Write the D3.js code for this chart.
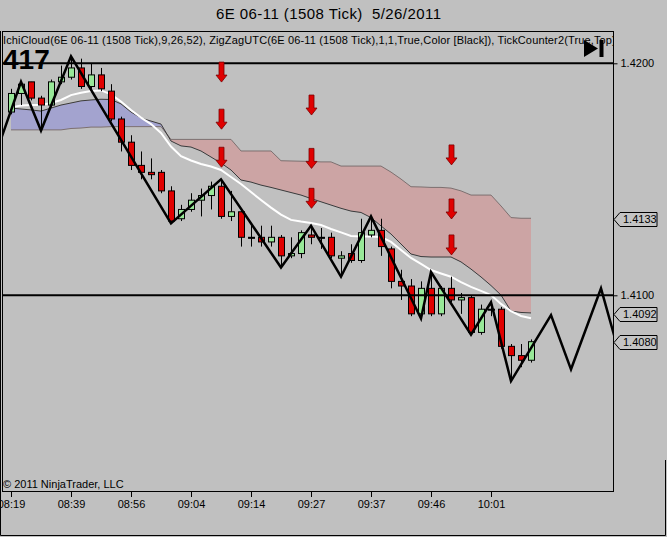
<!DOCTYPE html>
<html lang="en">
<head>
<meta charset="UTF-8">
<title>6E 06-11 (1508 Tick) 5/26/2011</title>
<script src="https://d3js.org/d3.v7.min.js"></script>
<style>
  body { margin: 0; background: #c0c0c0; }
  svg { display: block; font-family: "Liberation Sans", Arial, sans-serif; }
</style>
</head>
<body>
<script>
// candles, one per 1508-tick bar (index 0 = 08:19)
const opens = [1.4179,1.4187,1.4192,1.4185,1.4182,1.4192,1.4194,1.4198,1.4190,1.4195,
               1.4188,1.4176,1.4166,1.4156,1.4153,1.4153,1.4145,1.4133,1.4137,1.4141,
               1.4143,1.4147,1.4134,1.4136,1.4125,1.4125,1.4123,1.4125,1.4117,1.4118,
               1.4126,1.4125,1.4125,1.4116,1.4118,1.4115,1.4126,1.4128,1.4120,1.4106,
               1.4104,1.4092,1.4103,1.4092,1.4103,1.4098,1.4099,1.4084,1.4094,1.4094,
               1.4078,1.4074,1.4072];
const highs = [1.4189,1.4192,1.4192,1.4186,1.4193,1.4199,1.4203,1.4202,1.4200,1.4198,
               1.4191,1.4177,1.4169,1.4162,1.4159,1.4154,1.4147,1.4139,1.4144,1.4146,
               1.4149,1.4150,1.4145,1.4137,1.4130,1.4130,1.4130,1.4126,1.4125,1.4128,
               1.4130,1.4129,1.4127,1.4119,1.4122,1.4133,1.4134,1.4133,1.4121,1.4111,
               1.4107,1.4106,1.4110,1.4104,1.4108,1.4101,1.4100,1.4096,1.4097,1.4095,
               1.4079,1.4079,1.4081];
const lows  = [1.4178,1.4182,1.4184,1.4171,1.4181,1.4191,1.4193,1.4189,1.4189,1.4188,
               1.4175,1.4162,1.4154,1.4150,1.4150,1.4144,1.4131,1.4132,1.4136,1.4134,
               1.4137,1.4133,1.4132,1.4121,1.4121,1.4121,1.4121,1.4112,1.4116,1.4116,
               1.4122,1.4120,1.4116,1.4108,1.4114,1.4114,1.4125,1.4117,1.4103,1.4098,
               1.4091,1.4090,1.4091,1.4091,1.4097,1.4092,1.4083,1.4083,1.4091,1.4077,
               1.4063,1.4069,1.4071];
const closes = [1.4187,1.4191,1.4185,1.4182,1.4192,1.4194,1.4198,1.4190,1.4195,1.4189,
                1.4176,1.4166,1.4156,1.4153,1.4152,1.4145,1.4132,1.4137,1.4141,1.4143,
                1.4147,1.4134,1.4136,1.4125,1.4125,1.4123,1.4125,1.4117,1.4118,1.4127,
                1.4125,1.4125,1.4117,1.4117,1.4115,1.4127,1.4128,1.4121,1.4106,1.4104,
                1.4092,1.4103,1.4092,1.4103,1.4098,1.4099,1.4084,1.4094,1.4094,1.4078,
                1.4074,1.4072,1.4080];

// Ichimoku cloud spans and the white line, same bar index
const senkouA = [1.41807,1.41803,1.41799,1.41794,1.41807,1.41820,1.41829,1.41838,1.41842,1.41845,
                 1.41844,1.41825,1.41790,1.41764,1.41751,1.41738,1.41665,1.41644,1.41639,1.41622,
                 1.41596,1.41570,1.41540,1.41497,1.41488,1.41475,1.41465,1.41454,1.41443,1.41432,
                 1.41417,1.41403,1.41389,1.41375,1.41363,1.41357,1.41335,1.41299,1.41264,1.41221,
                 1.41178,1.41167,1.41165,1.41165,1.41165,1.41144,1.41113,1.41079,1.41042,1.41001,
                 1.40932,1.40926,1.40924];
const senkouB = [1.41713,1.41713,1.41713,1.41713,1.41713,1.41713,1.41719,1.41721,1.41725,1.41725,
                 1.41727,1.41727,1.41727,1.41727,1.41727,1.41727,1.41672,1.41672,1.41672,1.41672,
                 1.41672,1.41672,1.41672,1.41622,1.41622,1.41622,1.41622,1.41580,1.41579,1.41578,
                 1.41577,1.41575,1.41575,1.41557,1.41557,1.41557,1.41557,1.41557,1.41531,1.41501,
                 1.41468,1.41467,1.41465,1.41465,1.41462,1.41450,1.41432,1.41432,1.41432,1.41385,
                 1.41335,1.41332,1.41332];
const whiteLine = [1.41810,1.41818,1.41820,1.41820,1.41829,1.41842,1.41863,1.41873,1.41881,1.41883,
                   1.41866,1.41835,1.41799,1.41766,1.41738,1.41700,1.41641,1.41600,1.41581,1.41566,
                   1.41555,1.41540,1.41510,1.41480,1.41445,1.41411,1.41378,1.41348,1.41325,1.41318,
                   1.41312,1.41303,1.41286,1.41271,1.41256,1.41253,1.41253,1.41251,1.41230,1.41195,
                   1.41161,1.41135,1.41109,1.41094,1.41080,1.41057,1.41036,1.41019,1.41001,1.40963,
                   1.40932,1.40911,1.40901];

// zigzag swing points (bar index, price)
const zigzagBars   = [-2, 1, 3, 6, 16, 21, 27, 30, 33, 36, 41, 42, 46, 48, 50, 54, 56, 59, 61];
const zigzagPrices = [1.4155,1.4192,1.4171,1.4203,1.4131,1.4150,1.4112,1.4130,1.4108,1.4134,
                      1.4090,1.4110,1.4083,1.4097,1.4063,1.40915,1.40681,1.41030,1.40721];

// red signal arrows (bar index, price at the tip)
const arrowBars   = [21, 21, 21, 30, 30, 30, 44, 44, 44];
const arrowPrices = [1.41919,1.41716,1.41552,1.41777,1.41547,1.41375,1.41562,1.41329,1.41174];

const timeTickBars   = [0, 6, 12, 18, 24, 30, 36, 42, 48];
const timeTickLabels = ["08:19","08:39","08:56","09:04","09:14","09:27","09:37","09:46","10:01"];
const priceTicks   = [1.4200, 1.4100];
const levelLines   = [1.4200, 1.4100];
const priceMarkers = [1.4133, 1.4092, 1.4080];

const W = 667, H = 537;
const plot = {left: 2, right: 613, top: 31, bottom: 491};

const svg = d3.select("body").append("svg")
    .attr("width", W)
    .attr("height", H);

svg.append("rect").attr("width", W).attr("height", H).attr("fill", "#c0c0c0");

const x = d3.scaleLinear().domain([0, 52]).range([11, 531]);
const y = d3.scaleLinear().domain([1.4100, 1.4200]).range([295.3, 63.3]);

const defs = svg.append("defs");
defs.append("clipPath").attr("id", "plotClip").append("rect")
    .attr("x", plot.left).attr("y", plot.top)
    .attr("width", plot.right - plot.left).attr("height", plot.bottom - plot.top);

const idx = d3.range(senkouA.length);
defs.append("clipPath").attr("id", "belowA").append("path")
    .attr("d", d3.area().x(i => x(i)).y0(plot.bottom).y1(i => y(senkouA[i]))(idx));
defs.append("clipPath").attr("id", "aboveA").append("path")
    .attr("d", d3.area().x(i => x(i)).y0(plot.top).y1(i => y(senkouA[i]))(idx));

const chart = svg.append("g").attr("clip-path", "url(#plotClip)");

// cloud: blue where A is above B, red where below
const between = d3.area().x(i => x(i)).y0(i => y(senkouB[i])).y1(i => y(senkouA[i]));
chart.append("path").attr("d", between(idx)).attr("fill", "#a3a3cf")
    .attr("clip-path", "url(#belowA)");
chart.append("path").attr("d", between(idx)).attr("fill", "#cca4a4")
    .attr("clip-path", "url(#aboveA)");

const lineOf = arr => d3.line().x(i => x(i)).y(i => y(arr[i]))(idx);
chart.append("path").attr("d", lineOf(senkouB)).attr("fill", "none")
    .attr("stroke", "#7d7070").attr("stroke-width", 1);
chart.append("path").attr("d", lineOf(senkouA)).attr("fill", "none")
    .attr("stroke", "#3a3a3a").attr("stroke-width", 1);
chart.append("path").attr("d", lineOf(whiteLine)).attr("fill", "none")
    .attr("stroke", "#ffffff").attr("stroke-width", 2);

// candles
const candles = chart.append("g");
opens.forEach((o, i) => {
  const c = closes[i];
  const cx = x(i) + 0.5;
  candles.append("line")
      .attr("x1", cx).attr("x2", cx)
      .attr("y1", y(highs[i])).attr("y2", y(lows[i]))
      .attr("stroke", "#000").attr("stroke-width", 1);
  const top = y(Math.max(o, c)), bot = y(Math.min(o, c));
  candles.append("rect")
      .attr("x", x(i) - 2.5).attr("y", top)
      .attr("width", 6).attr("height", Math.max(1, bot - top))
      .attr("fill", c > o ? "#98e898" : c < o ? "#e00000" : "#000")
      .attr("stroke", "#000").attr("stroke-width", 1);
});

// level lines
levelLines.forEach(p => {
  chart.append("line")
      .attr("x1", plot.left).attr("x2", plot.right)
      .attr("y1", y(p)).attr("y2", y(p))
      .attr("stroke", "#000").attr("stroke-width", 2);
});

// zigzag
chart.append("path")
    .attr("d", d3.line().x((b, k) => x(b)).y((b, k) => y(zigzagPrices[k]))(zigzagBars))
    .attr("fill", "none").attr("stroke", "#000").attr("stroke-width", 2.5)
    .attr("stroke-linejoin", "miter");

// arrows
arrowBars.forEach((b, k) => {
  const ax = x(b) + 0.5, ty = y(arrowPrices[k]);
  const p = [[ax - 2.5, ty - 20], [ax + 2.5, ty - 20], [ax + 2.5, ty - 7], [ax + 5.5, ty - 7],
             [ax, ty], [ax - 5.5, ty - 7], [ax - 2.5, ty - 7]];
  chart.append("path").attr("d", "M" + p.join("L") + "Z")
      .attr("fill", "#e00000").attr("stroke", "#7a0000").attr("stroke-width", 0.8);
});

// frames
svg.append("rect")
    .attr("x", plot.left + 0.5).attr("y", plot.top + 0.5)
    .attr("width", plot.right - plot.left).attr("height", plot.bottom - plot.top)
    .attr("fill", "none").attr("stroke", "#000");
svg.append("path").attr("d", "M0.5,31V535.5H665.5V460")
    .attr("fill", "none").attr("stroke", "#000");

// axes
const xAxis = svg.append("g")
    .attr("transform", "translate(0," + (plot.bottom + 1) + ")")
    .call(d3.axisBottom(x).tickValues(timeTickBars)
      .tickFormat((d, i) => timeTickLabels[i]).tickSize(5).tickPadding(3));
xAxis.select(".domain").remove();
xAxis.selectAll("text").attr("font-size", 11).attr("font-family", "Liberation Sans, Arial, sans-serif")
    .attr("fill", "#000");
xAxis.selectAll("line").attr("stroke", "#000");

const yAxis = svg.append("g")
    .attr("transform", "translate(" + (plot.right + 0.5) + ",0)")
    .call(d3.axisRight(y).tickValues(priceTicks).tickFormat(d3.format(".4f")).tickSize(4).tickPadding(3));
yAxis.select(".domain").remove();
yAxis.selectAll("text").attr("font-size", 11).attr("font-family", "Liberation Sans, Arial, sans-serif")
    .attr("fill", "#000");

// last-value markers
priceMarkers.forEach(p => {
  const my = Math.round(y(p)) + 0.5;
  const px = plot.right + 1;
  svg.append("path")
      .attr("d", `M${px},${my}L${px + 6},${my - 7}H${px + 43}V${my + 7}H${px + 6}Z`)
      .attr("fill", "#c4c4c4").attr("stroke", "#000");
  svg.append("text").attr("x", px + 9).attr("y", my).attr("dy", "0.35em")
      .attr("font-size", 11).text(d3.format(".4f")(p));
});

// texts
svg.append("text").attr("x", 328.5).attr("y", 19).attr("text-anchor", "middle")
    .attr("font-size", 15).attr("textLength", 225).style("white-space", "pre")
    .text("6E 06-11 (1508 Tick)  5/26/2011");

const label = "IchiCloud(6E 06-11 (1508 Tick),9,26,52), ZigZagUTC(6E 06-11 (1508 Tick),1,1,True,Color [Black]), TickCounter2(True,Top";
const info = svg.append("g").attr("clip-path", "url(#plotClip)")
    .append("text").attr("x", 3).attr("y", 44).attr("font-size", 11)
    .text(label + ")");
const probe = svg.append("text").attr("font-size", 11).text(label);
const ratio = 609 / probe.node().getComputedTextLength();
probe.remove();
info.attr("textLength", info.node().getComputedTextLength() * ratio);

svg.append("text").attr("x", 3).attr("y", 69).attr("font-size", 28)
    .attr("font-weight", "bold").text("417");

svg.append("path").attr("d", "M584,40L598,48.5L584,57Z").attr("fill", "#000");
svg.append("rect").attr("x", 599.5).attr("y", 40).attr("width", 4).attr("height", 17).attr("fill", "#000");

svg.append("text").attr("x", 3).attr("y", 488).attr("font-size", 11)
    .text("\u00a9 2011 NinjaTrader, LLC");
</script>
</body>
</html>
